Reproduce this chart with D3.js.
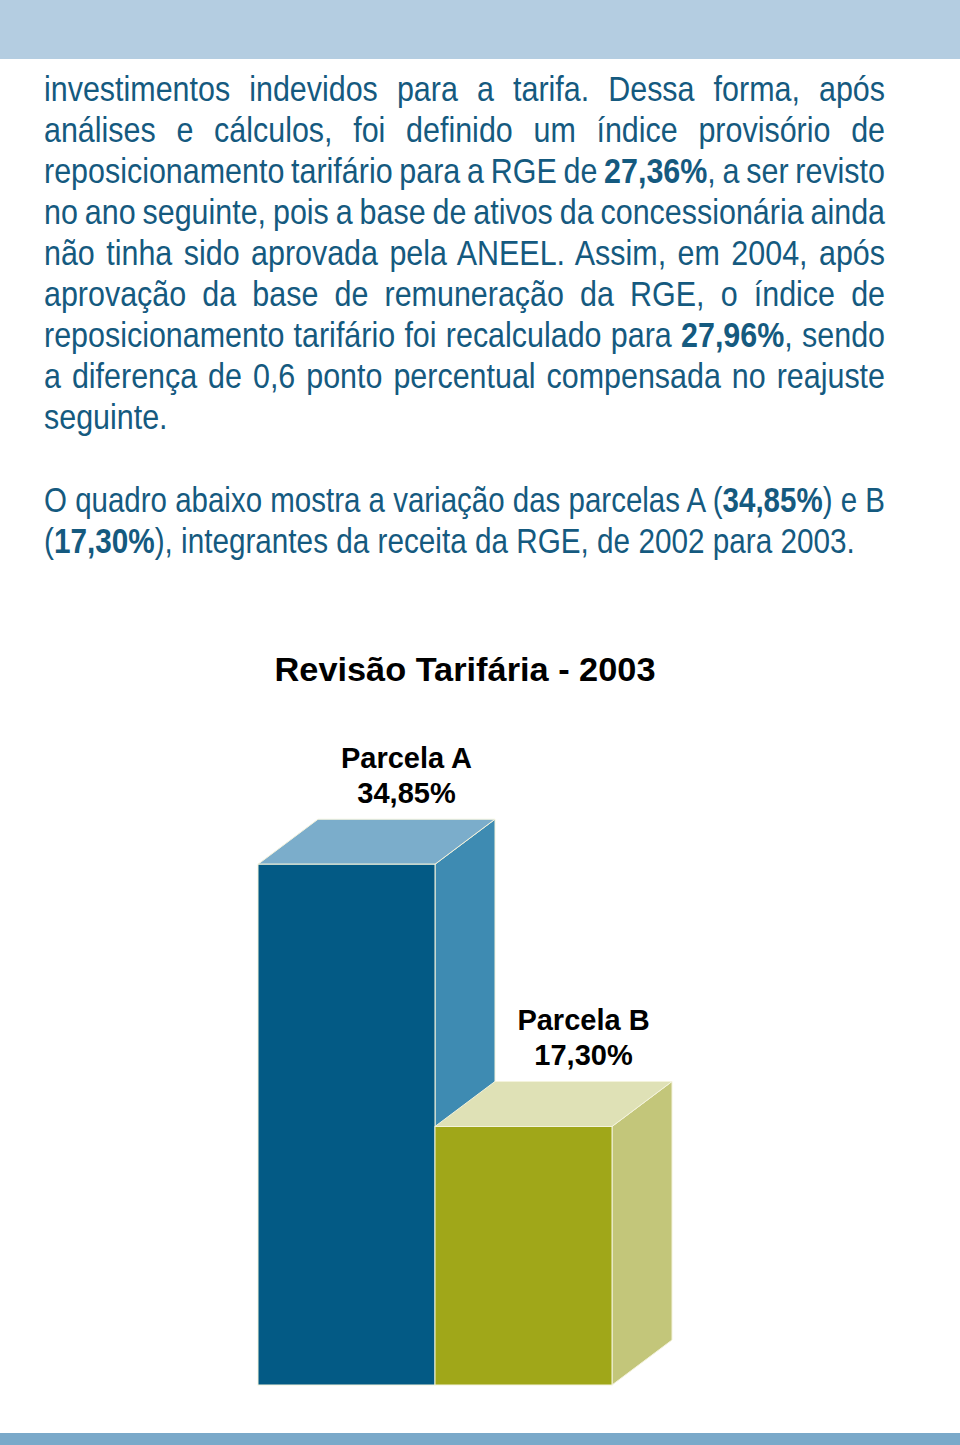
<!DOCTYPE html>
<html><head><meta charset="utf-8">
<script src="https://cdn.jsdelivr.net/npm/d3@7"></script>
<style>html,body{margin:0;padding:0;background:#fff}svg{display:block}</style>
</head><body>
<script>
// ---- data ----
const categories = ["Parcela A", "Parcela B"];
const values = [34.85, 17.30];
const valueLabels = ["34,85%", "17,30%"];
const chartTitle = "Revisão Tarifária - 2003";
const para1 = [
  [["investimentos indevidos para a tarifa. Dessa forma, após"]],
  [["análises e cálculos, foi definido um índice provisório de"]],
  [["reposicionamento tarifário para a RGE de "], ["27,36%", 1], [", a ser revisto"]],
  [["no ano seguinte, pois a base de ativos da concessionária ainda"]],
  [["não tinha sido aprovada pela ANEEL. Assim, em 2004, após"]],
  [["aprovação da base de remuneração da RGE, o índice de"]],
  [["reposicionamento tarifário foi recalculado para "], ["27,96%", 1], [", sendo"]],
  [["a diferença de 0,6 ponto percentual compensada no reajuste"]],
  [["seguinte."]]
];
const para2 = [
  [["O quadro abaixo mostra a variação das parcelas A ("], ["34,85%", 1], [") e B"]],
  [["("], ["17,30%", 1], ["), integrantes da receita da RGE, de 2002 para 2003."]]
];
const frontColors = ["#035a85", "#a0a719"];
const topColors = ["#7badcb", "#dfe1b6"];
const sideColors = ["#3e8bb2", "#c3c67a"];

// ---- layout ----
const W = 960, H = 1445;
const svg = d3.select("body").append("svg").attr("width", W).attr("height", H);
const textColor = "#155a7f";
const fontFam = "'Liberation Sans', Arial, Helvetica, sans-serif";

svg.append("rect").attr("x", 0).attr("y", 0).attr("width", W).attr("height", 59).attr("fill", "#b4cde1");
svg.append("rect").attr("x", 0).attr("y", 1433).attr("width", W).attr("height", 12).attr("fill", "#7aa9c9");

const left = 44, right = 885;
const sx = 0.87;
function makeText(parts, y, fs) {
  const g = svg.append("g");
  const t = g.append("text").attr("font-family", fontFam).attr("font-size", fs).attr("fill", textColor);
  parts.forEach(p => t.append("tspan").text(p[0]).attr("font-weight", p[1] ? "bold" : "normal"));
  return {g, t};
}
para1.forEach((ln, i) => {
  const yy = 101 + i * 41;
  const {g, t} = makeText(ln, yy, 35);
  g.attr("transform", `translate(${left},${yy}) scale(${sx},1)`);
  if (i < para1.length - 1) {
    const full = ln.map(p => p[0]).join("");
    const spaces = (full.match(/ /g) || []).length;
    const w = t.node().getComputedTextLength();
    if (spaces > 0) t.attr("word-spacing", ((right - left) / sx - w) / spaces);
  }
});
// second paragraph: tightly set lines, condensed to fit
para2.forEach((ln, i) => {
  const yy = 512 + i * 41;
  const target = i === 0 ? right : 855;
  const {g, t} = makeText(ln, yy, 35);
  const w = t.node().getComputedTextLength();
  g.attr("transform", `translate(${left},${yy}) scale(${(target - left) / w},1)`);
});

// title
svg.append("text").attr("x", 465).attr("y", 681).attr("text-anchor", "middle")
  .attr("font-family", fontFam).attr("font-weight", "bold").attr("font-size", 33).attr("fill", "#000")
  .attr("textLength", 381).attr("lengthAdjust", "spacingAndGlyphs").text(chartTitle);

// bars
const x = d3.scaleBand().domain(categories).range([258, 612]).padding(0);
const y = d3.scaleLinear().domain([0, 35]).range([1385, 862]);
const dx = 60, dy = -45;
const bw = x.bandwidth();
const edge = "#f4f3dc";
categories.forEach((c, i) => {
  const x0 = x(c), x1 = x0 + bw, yt = y(values[i]), yb = y(0);
  const g = svg.append("g");
  g.append("polygon").attr("points", [[x1, yt], [x1 + dx, yt + dy], [x1 + dx, yb + dy], [x1, yb]].join(" "))
    .attr("fill", sideColors[i]).attr("stroke", edge).attr("stroke-width", 1);
  g.append("polygon").attr("points", [[x0, yt], [x1, yt], [x1 + dx, yt + dy], [x0 + dx, yt + dy]].join(" "))
    .attr("fill", topColors[i]).attr("stroke", edge).attr("stroke-width", 1);
  g.append("rect").attr("x", x0).attr("y", yt).attr("width", bw).attr("height", yb - yt)
    .attr("fill", frontColors[i]).attr("stroke", edge).attr("stroke-width", 1);
  const cx = x0 + bw / 2 + dx;
  const ly = yt + dy - 16;
  const lab = svg.append("text").attr("text-anchor", "middle").attr("font-family", fontFam)
    .attr("font-weight", "bold").attr("font-size", 29).attr("fill", "#000");
  lab.append("tspan").attr("x", cx).attr("y", ly - 35).text(c);
  lab.append("tspan").attr("x", cx).attr("y", ly).text(valueLabels[i]);
});
</script>
</body></html>
